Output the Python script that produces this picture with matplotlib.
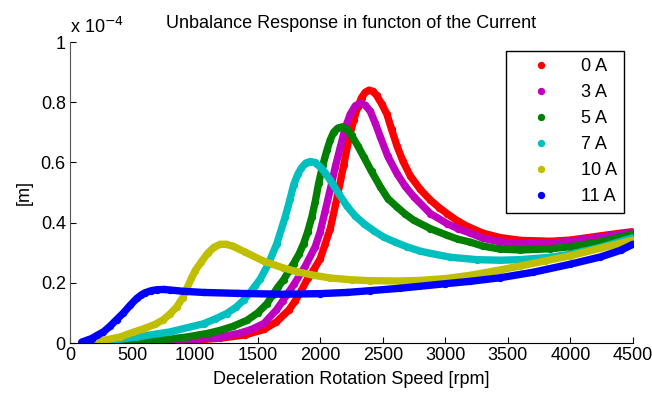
import matplotlib
matplotlib.use("Agg")
import matplotlib.pyplot as plt

plt.rcParams['font.family'] = ['Liberation Sans', 'DejaVu Sans']
plt.rcParams['font.size'] = 13

# rpm / displacement in units of 1e-4 m
red_x = [350, 600, 800, 1000, 1200, 1400, 1550, 1650, 1750, 1800, 1850, 1900, 1950, 2000, 2040,
         2080, 2133, 2187, 2230, 2267, 2300, 2330, 2360, 2390, 2420, 2450, 2490, 2533, 2570, 2613,
         2660, 2720, 2800, 2880, 2950, 3013, 3100, 3173, 3300, 3440, 3600, 3840, 4000, 4240, 4400, 4500]
red_y = [0.002, 0.004, 0.006, 0.010, 0.016, 0.027, 0.045, 0.07, 0.11, 0.14, 0.175, 0.215, 0.245, 0.28, 0.33,
         0.38, 0.48, 0.59, 0.68, 0.74, 0.785, 0.815, 0.833, 0.84, 0.836, 0.823, 0.795, 0.76, 0.71, 0.655,
         0.605, 0.555, 0.51, 0.475, 0.45, 0.43, 0.405, 0.388, 0.365, 0.35, 0.341, 0.338, 0.342, 0.356, 0.365, 0.37]

mag_x = [300, 650, 1000, 1200, 1350, 1450, 1550, 1650, 1700, 1790, 1880, 1960, 2000, 2040, 2080,
         2120, 2160, 2200, 2240, 2280, 2320, 2360, 2400, 2440, 2480, 2540, 2613, 2680, 2747, 2880,
         3013, 3100, 3200, 3300, 3440, 3600, 3840, 4000, 4240, 4500]
mag_y = [0.002, 0.005, 0.012, 0.02, 0.032, 0.045, 0.065, 0.11, 0.14, 0.195, 0.255, 0.32, 0.37, 0.44, 0.51,
         0.585, 0.65, 0.715, 0.76, 0.788, 0.797, 0.79, 0.77, 0.73, 0.685, 0.62, 0.563, 0.52, 0.486, 0.43,
         0.397, 0.38, 0.365, 0.348, 0.336, 0.331, 0.332, 0.338, 0.352, 0.368]

grn_x = [250, 550, 750, 933, 1100, 1200, 1300, 1413, 1500, 1573, 1620, 1660, 1707, 1750, 1787,
         1830, 1867, 1900, 1933, 1960, 1987, 2020, 2053, 2080, 2107, 2140, 2173, 2210, 2250, 2300,
         2347, 2410, 2480, 2540, 2613, 2680, 2747, 2880, 3013, 3100, 3200, 3300, 3440, 3600, 3840,
         4000, 4240, 4500]
grn_y = [0.002, 0.005, 0.011, 0.02, 0.032, 0.042, 0.055, 0.075, 0.1, 0.13, 0.16, 0.185, 0.21, 0.24, 0.264,
         0.295, 0.33, 0.37, 0.419, 0.47, 0.53, 0.59, 0.64, 0.675, 0.70, 0.714, 0.718, 0.71, 0.69, 0.655,
         0.619, 0.57, 0.519, 0.48, 0.452, 0.428, 0.408, 0.38, 0.358, 0.345, 0.335, 0.322, 0.312, 0.309, 0.313,
         0.32, 0.336, 0.362]

cyn_x = [200, 350, 533, 800, 1067, 1160, 1253, 1330, 1387, 1440, 1480, 1520, 1587, 1653, 1720,
         1760, 1787, 1820, 1850, 1885, 1920, 1955, 2000, 2040, 2080, 2150, 2213, 2280, 2347, 2430,
         2507, 2600, 2690, 2800, 2880, 3040, 3250, 3440, 3600, 3840, 4000, 4240, 4500]
cyn_y = [0.002, 0.01, 0.02, 0.037, 0.064, 0.08, 0.098, 0.12, 0.142, 0.168, 0.19, 0.212, 0.264, 0.33, 0.419,
         0.48, 0.525, 0.56, 0.582, 0.598, 0.603, 0.6, 0.585, 0.565, 0.541, 0.495, 0.455, 0.422, 0.397, 0.372,
         0.352, 0.335, 0.32, 0.305, 0.298, 0.285, 0.277, 0.275, 0.277, 0.285, 0.295, 0.318, 0.35]

yel_x = [170, 280, 400, 500, 587, 680, 747, 800, 853, 900, 933, 970, 1000, 1050, 1100,
         1150, 1200, 1250, 1300, 1400, 1547, 1700, 1813, 1950, 2080, 2250, 2400, 2640, 2800, 3000,
         3200, 3440, 3600, 3800, 4000, 4240, 4500]
yel_y = [0.002, 0.01, 0.02, 0.035, 0.047, 0.062, 0.078, 0.097, 0.12, 0.15, 0.18, 0.215, 0.24, 0.27, 0.298,
         0.318, 0.328, 0.328, 0.322, 0.302, 0.272, 0.25, 0.237, 0.225, 0.216, 0.21, 0.207, 0.206, 0.208, 0.214,
         0.225, 0.243, 0.256, 0.273, 0.29, 0.315, 0.342]

blu_x = [93, 173, 219, 267, 320, 373, 427, 480, 533, 570, 600, 650, 693, 750, 800,
         900, 1067, 1333, 1707, 2000, 2213, 2400, 2640, 3000, 3200, 3440, 3700, 4000, 4240, 4400, 4500]
blu_y = [0.003, 0.015, 0.026, 0.037, 0.056, 0.078, 0.10, 0.125, 0.148, 0.16, 0.167, 0.174, 0.177, 0.178, 0.176,
         0.172, 0.168, 0.165, 0.162, 0.164, 0.168, 0.174, 0.182, 0.197, 0.205, 0.217, 0.235, 0.262, 0.286, 0.308, 0.328]

labels = ["0 A", "3 A", "5 A", "7 A", "10 A", "11 A"]
colors = ["r", "m", "g", "c", "y", "b"]
series = [(red_x, red_y), (mag_x, mag_y), (grn_x, grn_y), (cyn_x, cyn_y), (yel_x, yel_y), (blu_x, blu_y)]

fig = plt.figure(figsize=(6.52, 3.94), dpi=100)
ax = fig.add_axes([0.1074, 0.1294, 0.8635, 0.764])

for (xs, ys), c, lab in zip(series, colors, labels):
    ax.plot(xs, ys, color=c, linewidth=5.3, solid_capstyle="round", solid_joinstyle="round")
    ax.plot(xs, ys, linestyle="none", marker="o", markersize=5.3, color=c, markeredgewidth=0, label=lab)

ax.set_xlim(0, 4500)
ax.set_ylim(0, 1)
ax.set_xticks(range(0, 4501, 500))
ax.set_yticks([0, 0.2, 0.4, 0.6, 0.8, 1])
ax.set_yticklabels(["0", "0.2", "0.4", "0.6", "0.8", "1"])
ax.tick_params(direction="in", length=4, width=0.8, pad=3)
ax.spines["top"].set_visible(False)
ax.spines["right"].set_visible(False)
ax.spines["left"].set_color("#555555")

ax.set_title("Unbalance Response in functon of the Current", fontsize=13, pad=10)
ax.set_xlabel("Deceleration Rotation Speed [rpm]", fontsize=13, labelpad=5)
ax.set_ylabel("[m]", fontsize=13, labelpad=6)
ax.text(0, 1.015, r"x 10$^{-4}$", transform=ax.transAxes, ha="left", va="bottom", fontsize=13)

leg = ax.legend(loc="upper right", bbox_to_anchor=(0.984, 0.970), borderaxespad=0,
                fancybox=False, framealpha=1, edgecolor="black", fontsize=13,
                handlelength=3.1, handletextpad=0.65, labelspacing=0.5, borderpad=0.4)
leg.get_frame().set_linewidth(1.0)

fig.savefig("out.png", dpi=100)
